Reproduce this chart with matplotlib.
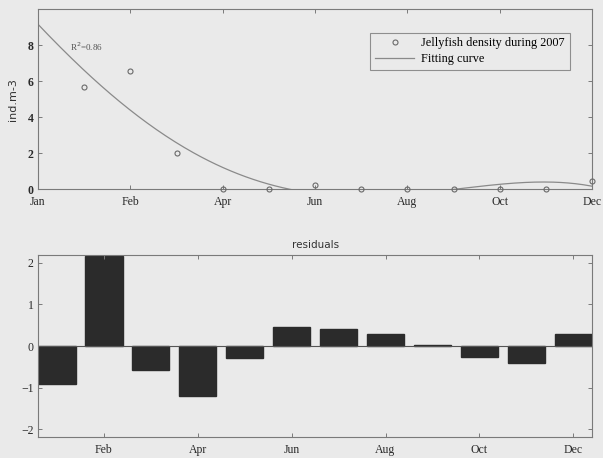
import numpy as np
import matplotlib
matplotlib.use("Agg")
import matplotlib.pyplot as plt

# monthly jellyfish density (ind.m-3), one sample per month
month_idx = np.arange(1, 13)
density = [5.7, 6.55, 2.0, 0.0, 0.0, 0.22, 0.0, 0.0, 0.0, 0.0, 0.0, 0.46]

tick_pos_top = [0, 2, 4, 6, 8, 10, 12]
tick_lab_top = ["Jan", "Feb", "Apr", "Jun", "Aug", "Oct", "Dec"]
tick_pos_bot = [2, 4, 6, 8, 10, 12]
tick_lab_bot = ["Feb", "Apr", "Jun", "Aug", "Oct", "Dec"]

fit_degree = 4

bg = "#eaeaea"
axcol = "#7a7a7a"
serif = ["Liberation Serif", "DejaVu Serif"]

# polynomial fit and residuals
coef = np.polyfit(month_idx, density, fit_degree)
xs = np.linspace(0, 12, 300)
fit_curve = np.polyval(coef, xs)
resid = np.array(density) - np.polyval(coef, month_idx)

fig = plt.figure(figsize=(6.03, 4.58), dpi=100, facecolor=bg)
ax1 = fig.add_axes([0.063, 0.587, 0.919, 0.393], facecolor=bg)
ax2 = fig.add_axes([0.063, 0.046, 0.919, 0.397], facecolor=bg)

ax1.plot(month_idx, density, "o", mfc="none", mec="#6a6a6a", ms=3.6, mew=0.8,
         label="Jellyfish density during 2007", clip_on=False, zorder=3)
ax1.plot(xs, fit_curve, "-", color="#8a8a8a", lw=0.9, label="Fitting curve")
ax1.set_xlim(0, 12)
ax1.set_ylim(0, 10)
ax1.set_xticks(tick_pos_top)
ax1.set_xticklabels(tick_lab_top)
ax1.set_yticks([0, 2, 4, 6, 8])
ax1.set_ylabel("ind.m-3", fontsize=8, family="DejaVu Sans", color="#333333", labelpad=7)
ax1.text(0.7, 7.7, "R$^2$=0.86", fontsize=6.5, family=serif, color="#555555")
leg = ax1.legend(loc="upper right", bbox_to_anchor=(0.96, 0.87), fancybox=False,
                 frameon=True, prop={"family": serif, "size": 8.8},
                 handlelength=3.2, handletextpad=0.6, borderpad=0.4,
                 labelspacing=0.3, borderaxespad=0)
leg.get_frame().set_edgecolor("#777777")
leg.get_frame().set_facecolor(bg)
leg.get_frame().set_linewidth(0.8)

ax2.bar(month_idx, resid, width=0.8, color="#2b2b2b", edgecolor="#2b2b2b")
ax2.axhline(0, color="#555555", lw=0.8)
ax2.set_xlim(0.6, 12.4)
ax2.set_ylim(-2.18, 2.18)
ax2.set_xticks(tick_pos_bot)
ax2.set_xticklabels(tick_lab_bot)
ax2.set_yticks([-2, -1, 0, 1, 2])
ax2.set_title("residuals", fontsize=7.5, family="DejaVu Sans", color="#333333", pad=5)

for ax in (ax1, ax2):
    for s in ax.spines.values():
        s.set_color(axcol)
        s.set_linewidth(0.8)
    ax.tick_params(direction="in", top=True, right=True, length=3, width=0.7,
                   color=axcol, labelsize=8.5, labelcolor="#2a2a2a")
    ax.tick_params(axis="x", pad=5)
    ax.tick_params(axis="y", pad=3)
    for lab in ax.get_xticklabels() + ax.get_yticklabels():
        lab.set_family(serif)

# the density axis numbers are printed heavier
for lab in ax1.get_yticklabels():
    lab.set_fontweight("bold")

fig.savefig("out.png", dpi=100, facecolor=bg)
